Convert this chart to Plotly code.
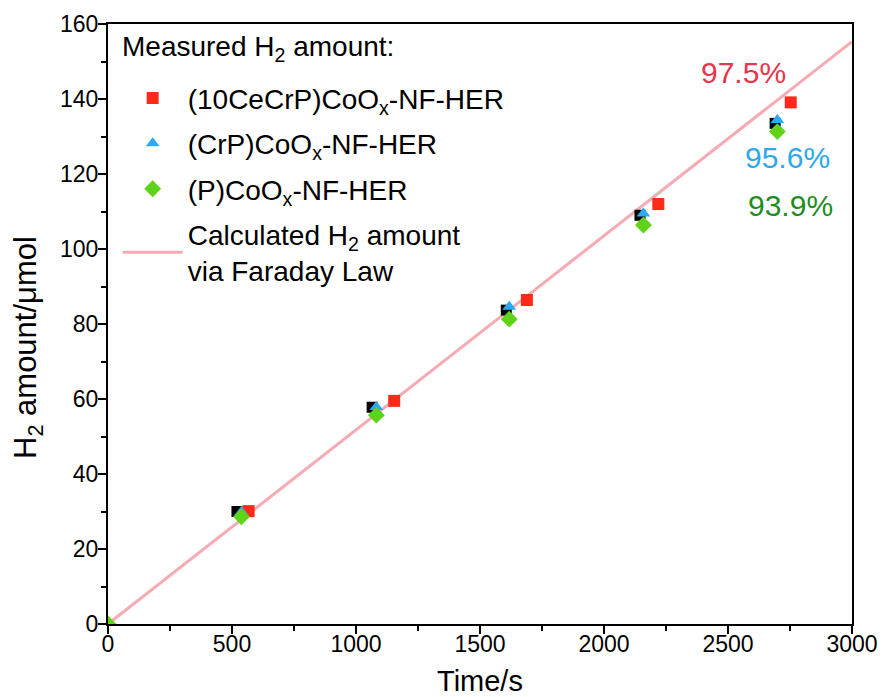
import plotly.graph_objects as go

# ---- data ----
line_x = [0, 3000]
line_y = [0, 155.3]

black_x = [520, 1065, 1606, 2145, 2690]
black_y = [30.0, 57.8, 83.7, 109.0, 133.5]

red_name = "(10CeCrP)CoO<sub>x</sub>-NF-HER"
red_x = [567, 1154, 1689, 2219, 2753]
red_y = [30.1, 59.5, 86.4, 112.0, 139.1]

blue_name = "(CrP)CoO<sub>x</sub>-NF-HER"
blue_x = [538, 1082, 1618, 2159, 2699]
blue_y = [29.9, 57.9, 84.6, 109.5, 134.4]

green_name = "(P)CoO<sub>x</sub>-NF-HER"
green_x = [0, 538, 1082, 1618, 2159, 2699]
green_y = [0, 28.6, 55.7, 81.3, 106.4, 131.3]

line_name = "Calculated H<sub>2</sub> amount<br>via Faraday Law"

pct_labels = ["97.5%", "95.6%", "93.9%"]
pct_x = [2561, 2738, 2754]
pct_y = [147.2, 124.3, 111.7]
pct_colors = ["#E8344C", "#2EA8EA", "#1E8C1E"]

x_ticks = [0, 500, 1000, 1500, 2000, 2500, 3000]
y_ticks = [0, 20, 40, 60, 80, 100, 120, 140, 160]

x_title = "Time/s"
y_title = "H<sub>2</sub> amount/μmol"
legend_title = "Measured H<sub>2</sub> amount:"

FONT = "Liberation Sans, Arial, sans-serif"

fig = go.Figure()
fig.add_trace(go.Scatter(x=line_x, y=line_y, mode="lines", name=line_name,
                         line=dict(color="#F5AAB4", width=3), legendrank=5,
                         legendgroup="g5"))
fig.add_trace(go.Scatter(x=black_x, y=black_y, mode="markers", showlegend=False,
                         marker=dict(symbol="square", size=11, color="black")))
fig.add_trace(go.Scatter(x=red_x, y=red_y, mode="markers", name=red_name,
                         marker=dict(symbol="square", size=12, color="#FF2A1A"),
                         legendrank=1, legendgroup="g1"))
fig.add_trace(go.Scatter(x=blue_x, y=blue_y, mode="markers", name=blue_name,
                         marker=dict(symbol="triangle-up", size=12, color="#2AAAF2"),
                         legendrank=2, legendgroup="g2"))
fig.add_trace(go.Scatter(x=green_x, y=green_y, mode="markers", name=green_name,
                         marker=dict(symbol="diamond", size=13, color="#5ED318"),
                         legendrank=3, legendgroup="g3"))

for t, x, y, c in zip(pct_labels, pct_x, pct_y, pct_colors):
    fig.add_annotation(x=x, y=y, text=t, showarrow=False,
                       font=dict(size=30, color=c, family=FONT))

fig.add_annotation(text=x_title, xref="paper", yref="paper", x=0.5, y=0,
                   yshift=-57, xanchor="center", yanchor="middle", showarrow=False,
                   font=dict(size=29, color="black", family=FONT))
fig.add_annotation(text=y_title, xref="paper", yref="paper", x=0, y=0.46,
                   xshift=-80, xanchor="center", yanchor="middle", textangle=-90,
                   showarrow=False, font=dict(size=31, color="black", family=FONT))
fig.add_annotation(text=legend_title, xref="paper", yref="paper", x=0.0168, y=0.96,
                   xanchor="left", yanchor="middle", showarrow=False,
                   font=dict(size=28, color="black", family=FONT))

axis_common = dict(showline=True, linecolor="black", linewidth=2, mirror=True,
                   ticks="outside", ticklen=8, tickwidth=2, tickcolor="black",
                   showgrid=False, zeroline=False, automargin=False,
                   tickfont=dict(size=23, color="black", family=FONT))

fig.update_xaxes(range=[0, 3000], tickvals=x_ticks, ticklabelstandoff=-10,
                 minor=dict(ticks="outside", ticklen=5, tickwidth=2, dtick=250, tickcolor="black"),
                 **axis_common)
fig.update_yaxes(range=[0, 160], tickvals=y_ticks, ticklabelstandoff=-5,
                 minor=dict(ticks="outside", ticklen=5, tickwidth=2, dtick=10, tickcolor="black"),
                 **axis_common)

fig.update_layout(
    width=878, height=689,
    margin=dict(l=99.5, r=34, t=16, b=73),
    plot_bgcolor="white", paper_bgcolor="white",
    font=dict(family=FONT, color="black"),
    legend=dict(x=0.013, y=0.918, xanchor="left", yanchor="top",
                bgcolor="rgba(0,0,0,0)",
                font=dict(size=28, color="black", family=FONT),
                tracegroupgap=6, itemwidth=60),
)

fig.write_html("out.html")
